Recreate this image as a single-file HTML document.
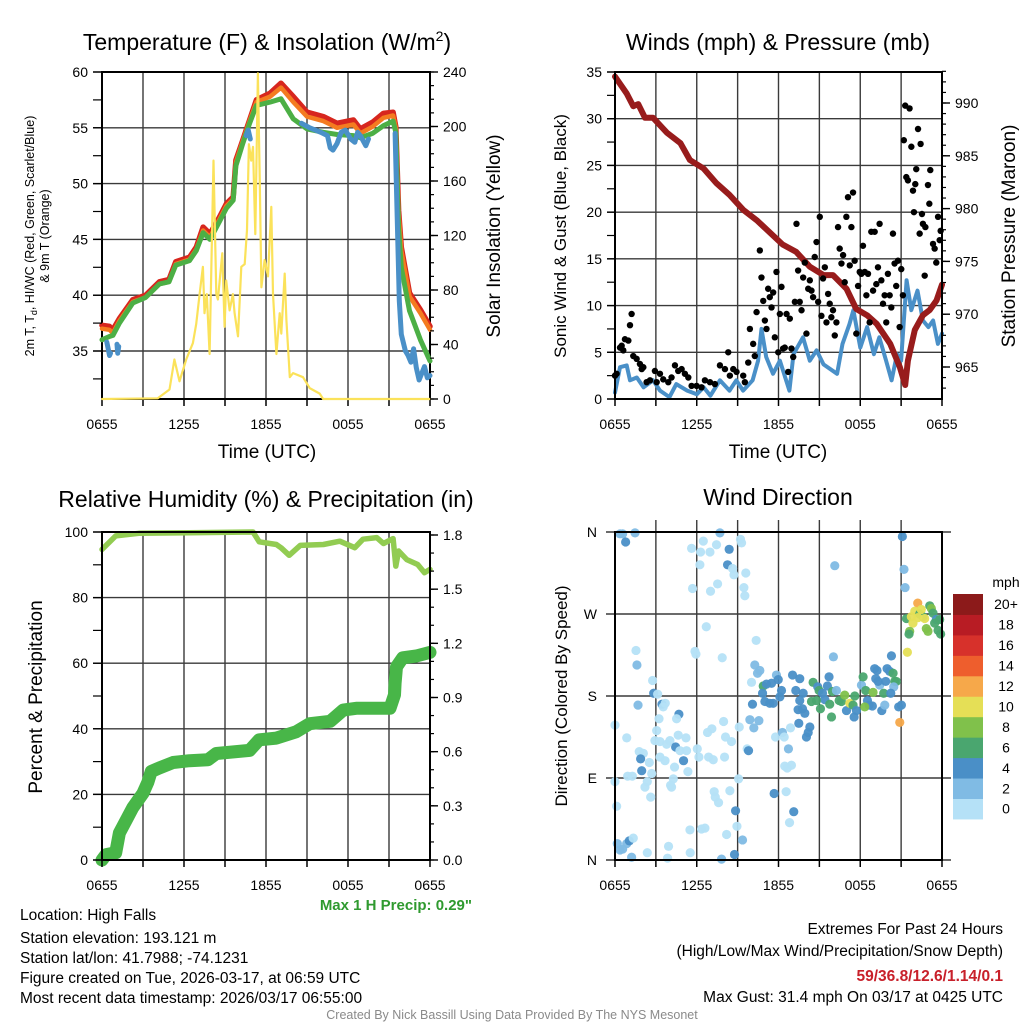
<!DOCTYPE html>
<html><head><meta charset="utf-8"><style>
html,body{margin:0;padding:0;background:#fff;}
svg{display:block;font-family:"Liberation Sans",Arial,sans-serif;}
</style></head><body>
<svg id="fig" width="1024" height="1024" viewBox="0 0 1024 1024" xmlns="http://www.w3.org/2000/svg">
<rect width="1024" height="1024" fill="#fff"/>
<g id="layer"></g>
<!-- titles -->
<text x="267" y="50" font-size="23" text-anchor="middle">Temperature (F) &amp; Insolation (W/m<tspan font-size="14" dy="-9">2</tspan><tspan dy="9">)</tspan></text>
<text x="778" y="50" font-size="23" text-anchor="middle">Winds (mph) &amp; Pressure (mb)</text>
<text x="266" y="507" font-size="23" text-anchor="middle">Relative Humidity (%) &amp; Precipitation (in)</text>
<text x="778" y="505" font-size="23" text-anchor="middle">Wind Direction</text>
<!-- axis titles -->
<text x="267" y="458" font-size="19" text-anchor="middle">Time (UTC)</text>
<text x="778" y="458" font-size="19" text-anchor="middle">Time (UTC)</text>
<text transform="translate(34,236) rotate(-90)" font-size="12.5" text-anchor="middle">2m T, T<tspan font-size="9" dy="3">d</tspan><tspan dy="-3">, HI/WC (Red, Green, Scarlet/Blue)</tspan></text>
<text transform="translate(49,236) rotate(-90)" font-size="12.5" text-anchor="middle">&amp; 9m T (Orange)</text>
<text transform="translate(500,236) rotate(-90)" font-size="19" text-anchor="middle">Solar Insolation (Yellow)</text>
<text transform="translate(566,236) rotate(-90)" font-size="17" text-anchor="middle">Sonic Wind &amp; Gust (Blue, Black)</text>
<text transform="translate(1015,236) rotate(-90)" font-size="19" text-anchor="middle">Station Pressure (Maroon)</text>
<text transform="translate(42,697) rotate(-90)" font-size="19" text-anchor="middle">Percent &amp; Precipitation</text>
<text transform="translate(567,696) rotate(-90)" font-size="17" text-anchor="middle">Direction (Colored By Speed)</text>
<!-- footer -->
<text x="472" y="910" font-size="15" font-weight="bold" fill="#2f9a2f" text-anchor="end">Max 1 H Precip: 0.29"</text>
<g font-size="15.5">
<text x="20" y="920">Location: High Falls</text>
<text x="20" y="943">Station elevation: 193.121 m</text>
<text x="20" y="963">Station lat/lon: 41.7988; -74.1231</text>
<text x="20" y="983">Figure created on Tue, 2026-03-17, at 06:59 UTC</text>
<text x="20" y="1003">Most recent data timestamp: 2026/03/17 06:55:00</text>
</g>
<g font-size="15.5" text-anchor="end">
<text x="1003" y="934">Extremes For Past 24 Hours</text>
<text x="1003" y="956">(High/Low/Max Wind/Precipitation/Snow Depth)</text>
<text x="1003" y="981" font-weight="bold" fill="#c8202a">59/36.8/12.6/1.14/0.1</text>
<text x="1003" y="1002">Max Gust: 31.4 mph On 03/17 at 0425 UTC</text>
</g>
<text x="512" y="1019" font-size="12.5" fill="#8a8a8a" text-anchor="middle">Created By Nick Bassill Using Data Provided By The NYS Mesonet</text>
</svg>
<script>
// ---------- data ----------
const tHours=[0,0.54,0.8,1.27,2.25,3.2,4.2,4.9,5.4,6.4,6.9,7.4,7.9,8.6,9.1,9.6,9.8,10.3,10.8,11.3,12.3,13.1,14.0,15.0,16.2,17.2,18.4,18.9,19.8,20.6,21.3,21.5,21.7,21.9,22.5,23.3,24];
const tempRed=[37.3,37.2,36.9,37.9,39.6,40.0,41.2,41.4,43.0,43.4,44.3,46.1,45.5,47.0,48.2,48.8,52.1,53.9,55.7,57.5,58.1,59.0,57.8,56.4,56.0,55.4,55.7,54.9,55.5,56.3,56.4,55.1,47.6,44.3,40.2,38.7,37.2];
const tempOrange=[37.0,36.9,36.6,37.7,39.4,39.8,41.0,41.2,42.8,43.2,44.1,45.8,45.2,46.8,48.0,48.6,51.9,53.8,55.6,57.3,57.8,58.6,57.3,56.0,55.6,55.0,55.3,54.5,55.1,55.9,56.1,55.0,47.3,44.0,39.9,38.4,36.9];
const tempGreen=[36.0,36.3,36.4,37.5,39.3,39.8,41.0,41.2,42.7,43.1,44.0,45.6,45.0,46.6,47.8,48.5,51.6,53.6,55.4,57.0,57.3,57.6,55.8,54.9,54.6,54.4,54.3,54.1,54.5,55.2,55.6,54.6,46.0,42.5,38.6,36.0,34.1];
const wcHours=[0.35,0.45,0.55,0.62,0.7,1.1,1.15,1.22,1.3,10.55,10.7,10.85,11.0,14.6,15.2,16.0,16.5,16.7,16.9,17.2,17.5,17.8,18.2,18.5,18.7,18.9,19.3,19.5,19.7,21.45,21.6,21.75,21.9,22.2,22.4,22.6,22.8,23.0,23.2,23.4,23.6,23.8,24.0];
const wcTemp=[35.8,35.2,34.6,34.8,null,35.6,34.8,35.4,null,54.3,54.8,54.0,null,55.4,55.0,54.6,54.3,53.2,53.0,53.6,54.6,54.8,54.0,53.7,54.6,54.3,53.4,54.0,null,54.5,47,39.5,36.5,35.0,34.6,34.0,35.2,33.5,32.4,33.0,33.6,32.6,32.8];
const solHours=[0,4.08,4.94,5.30,5.67,6.16,6.65,6.89,7.14,7.38,7.50,7.67,7.87,8.16,8.36,8.48,8.80,8.97,9.09,9.34,9.58,9.70,9.95,10.19,10.44,10.61,10.75,10.92,11.05,11.22,11.41,11.54,11.66,11.90,12.15,12.39,12.51,12.76,13.00,13.12,13.37,13.49,13.74,13.98,14.71,15.20,15.93,16.18,24];
const solValues=[0,0.5,7,29,13,29,41,55,77,97,63,77,33,175,77,73,107,53,87,65,77,63,46,97,99,124,187,175,185,121,239,163,82,102,90,141,77,33,63,48,92,58,16,19,16,8,4,0,0];
const presHours=[0,0.86,1.34,1.7,2.2,2.8,3.8,4.8,5.5,6.5,7.45,8.4,9.4,10.4,11.4,12.3,13.3,14.3,15.3,16.0,17.0,17.7,18.5,19.2,20.2,20.9,21.3,21.5,22.0,22.6,23.1,23.6,24];
const presValues=[992.5,990.9,989.7,989.9,988.6,988.6,987.2,986.2,984.6,983.8,982.4,981.3,979.9,978.9,977.7,976.6,975.9,974.5,973.7,973.7,972.4,970.5,969.9,969.1,967.2,965.0,963.3,965.6,968.5,969.9,970.4,971.3,972.8];
const windHours=[0,0.37,0.86,1.1,1.6,2.1,2.8,3.3,4.0,4.5,5.3,6.0,6.5,7.0,7.7,8.4,8.9,9.4,10.1,10.5,10.75,11.1,11.6,12.1,12.8,13.1,13.8,14.3,14.8,15.3,16.3,16.7,17.2,17.5,18.0,18.5,19.0,19.4,19.9,20.3,20.7,21.0,21.4,21.75,22.2,22.6,23.0,23.35,23.7,24];
const windSpeed=[0.7,3.4,3.6,2.0,2.3,1.25,2.0,0.9,0.2,1.6,0.9,0.5,1.25,0.35,2.0,0.9,2.0,0.9,2.0,4.1,7.5,4.5,2.7,4.1,0.9,4.8,6.6,4.1,5.2,3.7,2.7,5.9,8.0,9.5,5.5,7.7,4.8,6.6,4.1,2.0,4.8,4.1,12.7,9.5,11.6,8.4,7.7,8.4,5.9,7.0];
const gustHours=[0,0.12,0.37,0.49,0.61,0.73,0.98,1.1,1.22,1.34,1.59,1.83,1.96,2.08,2.32,2.57,2.93,3.06,3.3,3.54,3.91,4.15,4.4,4.64,4.89,5.13,5.38,5.62,5.99,6.35,6.6,6.97,7.33,7.7,8.07,8.31,8.43,8.68,8.92,9.41,9.53,9.78,9.9,10.14,10.26,10.39,10.63,10.75,10.88,11.0,11.12,11.24,11.36,11.49,11.61,11.73,11.85,11.98,12.1,12.22,12.34,12.46,12.59,12.71,12.83,12.95,13.08,13.2,13.32,13.44,13.56,13.69,13.81,13.93,14.05,14.18,14.3,14.42,14.54,14.66,14.79,14.91,15.03,15.15,15.27,15.4,15.52,15.64,15.76,15.88,16.0,16.13,16.25,16.37,16.49,16.62,16.74,16.86,16.98,17.1,17.23,17.35,17.47,17.59,17.71,17.84,17.96,18.08,18.2,18.33,18.45,18.57,18.69,18.81,18.94,19.06,19.18,19.3,19.42,19.55,19.67,19.79,19.91,20.03,20.16,20.28,20.4,20.52,20.64,20.77,20.89,21.01,21.13,21.2,21.3,21.38,21.5,21.62,21.75,21.87,21.94,22.04,22.11,22.24,22.36,22.43,22.53,22.6,22.73,22.78,22.97,23.07,23.14,23.34,23.46,23.58,23.71,23.83,23.9];
const gustSpeed=[2.5,2.7,5.5,5.7,5.2,6.4,6.25,7.9,9.1,4.6,4.3,3.75,3.2,3.4,1.8,2.0,3.0,1.8,2.7,2.1,1.8,2.3,3.6,3.0,3.2,2.7,2.3,1.4,1.4,1.25,2.0,1.8,1.6,3.6,3.2,5.0,2.5,3.2,2.9,2.5,1.8,3.9,7.5,5.9,4.6,9.3,15.9,13.0,10.5,8.4,7.5,11.8,10.9,9.8,11.4,6.6,13.6,5.0,9.1,12.0,5.4,5.5,9.1,2.9,8.6,5.4,4.5,10.4,18.75,13.75,10.4,9.5,13.0,14.6,7.0,11.8,12.7,11.6,10.9,15.2,16.8,10.4,19.5,8.9,12.9,14.1,8.2,11.25,10.2,8.75,9.5,6.8,8.2,18.4,16.1,14.5,15.4,12.5,19.5,21.6,14.3,18.4,22.1,14.8,7.0,12.1,13.6,13.4,16.4,13.6,11.1,13.4,8.2,17.9,11.6,17.9,12.3,14.1,18.75,12.7,10.2,11.1,8.2,13.4,11.1,9.8,17.7,14.5,12.1,14.8,7.7,13.9,11.1,27.7,31.4,23.75,23.4,31.1,27.0,22.3,20.0,23.0,24.6,28.9,17.7,27.3,19.8,18.75,13.2,18.4,22.9,20.9,24.5,16.6,16.1,14.6,19.5,17.0,18.0,13.2];
const rhHours=[0,1.0,2.7,6.4,11.05,11.5,12.76,13.1,13.7,14.5,16.2,17.4,18.5,19.1,20.1,20.6,21.3,21.5,21.7,22.3,23.1,23.6,24];
const rhValues=[94.7,98.8,99.6,99.8,100,97,96.2,95.2,92.9,95.9,96.2,97.2,95.2,97.8,98.3,96.5,98.0,89.6,94.2,91.6,90.1,87.6,88.6];
const pcpHours=[0,0.3,1.0,1.27,1.76,2.25,3.0,3.35,3.6,4.2,5.2,6.4,7.75,8.36,10.8,11.5,12.76,14.2,15.2,16.7,17.65,18.6,21.07,21.4,21.45,21.55,22.0,23.0,24];
const pcpValues=[0,0.03,0.04,0.15,0.22,0.29,0.37,0.43,0.49,0.51,0.54,0.55,0.555,0.59,0.607,0.666,0.675,0.71,0.755,0.768,0.83,0.84,0.84,0.915,0.98,1.07,1.12,1.13,1.15];
const dirHours=[0.37,0.56,0.78,1.47,5.62,6.48,6.28,6.97,7.45,7.70,8.38,6.23,8.26,8.63,8.73,9.21,9.29,9.60,5.69,7.01,7.53,9.46,9.53,16.13,21.09,21.21,21.29,6.70,10.36,1.54,1.61,5.87,5.94,7.87,16.03,20.29,2.76,2.84,3.13,1.69,3.45,3.69,3.54,4.69,4.52,3.23,0.0,3.06,0.86,2.93,3.30,3.79,4.03,4.45,4.64,5.21,1.78,2.08,1.88,2.52,3.30,3.67,4.37,5.03,4.77,5.25,1.96,2.69,5.35,6.04,6.16,6.79,7.11,6.87,7.21,7.97,8.11,8.55,8.04,9.12,9.70,9.80,0.93,1.27,0.0,2.20,2.37,2.62,4.15,4.28,4.08,7.28,7.36,7.60,8.43,9.07,8.85,8.95,9.36,8.77,7.82,5.50,6.35,6.60,8.19,5.52,3.93,3.86,2.37,0.12,0.17,0.37,0.56,0.86,1.05,1.22,1.34,10.02,10.26,10.46,10.63,10.88,10.83,11.12,11.49,11.85,11.98,12.22,12.10,11.00,11.36,11.61,10.09,9.90,10.19,10.56,11.78,12.29,12.42,12.73,12.88,12.46,12.64,12.95,12.81,13.12,11.68,12.56,13.03,13.27,13.56,13.81,13.44,13.76,13.93,13.56,13.49,14.05,14.18,14.30,14.54,14.88,14.98,15.23,15.40,15.59,15.71,15.76,15.96,16.25,15.89,14.42,14.79,15.08,16.45,16.62,16.86,16.99,17.23,17.47,17.60,17.72,17.55,18.09,18.21,18.40,18.53,18.65,18.89,18.33,18.94,19.14,19.06,19.23,19.43,19.31,19.72,19.58,19.80,19.87,19.97,20.16,20.41,20.53,20.65,20.46,20.24,20.82,21.02,20.90,22.22,21.46,22.00,22.36,21.39,21.75,21.87,21.63,21.58,22.61,23.10,23.22,23.34,23.58,23.83,22.85,22.97,23.46,23.71,23.90,22.73,22.48,22.24];
const dirDegrees=[358,358,349,359,342,350,338,338,346,359,341,324,324,320,313,352,348,315,298,295,303,299,290,323,355,319,299,256,241,230,214,229,226,222,223,224,197,183,182,170,171,172,168,160,155,155,148,142,134,131,130,127,131,124,137,134,119,117,111,107,113,109,102,109,120,120,98,95,97,122,113,140,144,113,110,152,135,130,113,146,122,120,92,92,86,80,86,69,80,89,82,75,69,63,76,89,54,37,22,6,1,33,34,35,28,8,15,2,8,59,18,11,12,18,21,3,24,195,214,205,208,191,183,193,194,203,198,186,179,174,172,172,171,154,145,153,135,140,135,122,145,103,101,104,41,53,73,75,203,186,199,183,165,166,161,175,150,135,140,146,195,190,186,183,176,191,201,171,185,186,157,174,175,166,175,174,181,164,172,170,180,164,157,192,201,186,175,170,169,168,184,199,210,208,192,196,183,164,170,196,210,207,205,196,196,190,183,168,170,151,282,228,273,270,265,267,260,251,248,267,279,276,271,264,264,254,251,260,252,248,265,275,266];
const dirSpeed=[3,3,5,3,1,1,1,1,1,3,5,1,5,1,1,1,1,1,1,1,1,1,1,3,5,3,3,1,1,1,3,1,1,1,3,5,1,5,1,3,5,1,1,5,1,1,1,1,1,1,1,1,1,5,1,1,1,1,5,1,1,1,1,5,1,1,5,1,1,1,1,1,1,1,1,1,1,1,1,1,1,5,1,1,1,1,1,1,1,1,1,1,1,1,1,1,5,1,3,5,3,1,1,1,1,1,1,1,1,1,3,3,3,3,5,3,1,1,3,3,3,7,5,5,5,3,5,5,5,5,5,5,5,3,3,3,1,3,1,3,1,1,1,1,1,5,5,1,5,5,5,5,5,5,5,5,5,5,5,5,7,5,7,5,5,5,5,7,7,3,7,7,7,7,7,7,9,5,11,7,7,5,5,3,7,7,5,5,5,9,9,5,5,5,3,5,7,5,3,5,5,5,7,7,7,3,5,5,5,13,13,11,11,7,7,11,11,9,7,7,7,9,7,5,7,9,9,7,7,7,11,11,11];
const xTickLabels=["0655","1255","1855","0055","0655"];
const tempTicks=[35,40,45,50,55,60];
const solTicks=[0,40,80,120,160,200,240];
const windTicks=[0,5,10,15,20,25,30,35];
const presTicks=[965,970,975,980,985,990];
const rhTicks=[0,20,40,60,80,100];
const pcpTicks=["0.0","0.3","0.6","0.9","1.2","1.5","1.8"];
const dirTicks=["N","E","S","W","N"];
const binLabels=["0","2","4","6","8","10","12","14","16","18","20+"];
const binColors=["#b5e1f7","#80bbe4","#4a8fc7","#4aa66f","#80c14b","#e5df56","#f6a84a","#ee5e2d","#d7312b","#b81c24","#8c1a1a"];

// ---------- helpers ----------
const NS="http://www.w3.org/2000/svg";
const layer=document.getElementById('layer');
function mk(tag,attrs,parent){const e=document.createElementNS(NS,tag);for(const k in attrs)e.setAttribute(k,attrs[k]);(parent||layer).appendChild(e);return e;}
const P1={x0:102,x1:430,y0:72,y1:399},P2={x0:615,x1:942,y0:72,y1:399},P3={x0:102,x1:430,y0:532,y1:860},P4={x0:615,x1:942,y0:532,y1:860};
const X=(p,h)=>p.x0+h/24*(p.x1-p.x0);
const lin=(d0,d1,r0,r1)=>v=>r0+(v-d0)/(d1-d0)*(r1-r0);
const yTemp=lin(35,60,351,72), ySol=lin(0,240,399,72), yWind=lin(0,35,399,72), yPres=lin(965,990,367,103), yRh=lin(0,100,860,532), yPcp=lin(0,1.8,860,535), yDir=lin(0,360,860,532);
function pathD(p,hs,vs,ys){let d="",pen=false;for(let i=0;i<hs.length;i++){if(vs[i]==null){pen=false;continue;}d+=(pen?"L":"M")+X(p,hs[i]).toFixed(1)+","+ys(vs[i]).toFixed(1);pen=true;}return d;}
function series(p,hs,vs,ys,color,w,name){const e=mk('path',{d:pathD(p,hs,vs,ys),fill:'none',stroke:color,'stroke-width':w,'stroke-linejoin':'round','stroke-linecap':'round'});

return e;}
function grid(p,name,hy,extL,extR,extTop){const g=mk('g',{});


for(let h=3;h<24;h+=3)mk('line',{x1:X(p,h),x2:X(p,h),y1:p.y0-(extTop||0),y2:p.y1,stroke:'#3a3a3a','stroke-width':1.4},g);
hy.forEach(y=>mk('line',{x1:p.x0-(extL||0),x2:p.x1+(extR||0),y1:y,y2:y,stroke:'#3a3a3a','stroke-width':1.4},g));}
function frame(p,name){const g=mk('g',{});


for(let h=0;h<=24;h+=3)mk('line',{x1:X(p,h),x2:X(p,h),y1:p.y1,y2:p.y1+7,stroke:'#000','stroke-width':1.5},g);
xTickLabels.forEach((t,i)=>{const e=mk('text',{x:X(p,i*6),y:p.y1+30,'font-size':14,'text-anchor':'middle'},g);e.textContent=t;});
const r=mk('rect',{x:p.x0,y:p.y0,width:p.x1-p.x0,height:p.y1-p.y0,fill:'none',stroke:'#000','stroke-width':2});

}
function yAxis(p,side,ticks,ys,minor,majorLen,minorLen,name,fmt){const g=mk('g',{});


const x=side==='l'?p.x0:p.x1,s=side==='l'?-1:1;
minor.forEach(v=>{const y=ys(v);if(y<p.y0-1||y>p.y1+1)return;mk('line',{x1:x,x2:x+s*minorLen,y1:y,y2:y,stroke:'#000','stroke-width':1.2},g);});
ticks.forEach(t=>{const v=parseFloat(t),y=ys(v);mk('line',{x1:x,x2:x+s*majorLen,y1:y,y2:y,stroke:'#000','stroke-width':1.4},g);
const e=mk('text',{x:x+s*(majorLen+5),y:y+5,'font-size':14,'text-anchor':side==='l'?'end':'start'},g);e.textContent=fmt?fmt(t):t;});}
const range=(a,b,st)=>{const r=[];for(let v=a;v<=b+1e-9;v+=st)r.push(+v.toFixed(4));return r;};

// ---------- panel 1 ----------
grid(P1,'temperature',tempTicks.slice(0,5).map(yTemp));
frame(P1,'temperature');
series(P1,tHours,tempRed,yTemp,'#d7261e',5.5,'temperature-2m-line');
series(P1,tHours,tempOrange,yTemp,'#f47b20',4.5,'temperature-9m-line');
series(P1,tHours,tempGreen,yTemp,'#4caf45',5,'dewpoint-line');
series(P1,wcHours,wcTemp,yTemp,'#4a90c8',5,'windchill-line');
series(P1,solHours,solValues,ySol,'#fbe25a',2.2,'insolation-line');
yAxis(P1,'l',tempTicks,yTemp,range(32.5,60,2.5),9,9,'temperature-left-axis');
yAxis(P1,'r',solTicks,ySol,range(0,240,10),8,4,'insolation-right-axis');

// ---------- panel 2 ----------
grid(P2,'winds',windTicks.slice(1,7).map(yWind));
series(P2,windHours,windSpeed,yWind,'#4a90c8',4,'sonic-wind-line');
series(P2,presHours,presValues,yPres,'#981c1c',6,'pressure-line');
{const g=mk('g',{});


gustHours.forEach((h,i)=>{const c=mk('circle',{cx:X(P2,h),cy:yWind(gustSpeed[i]),r:3.2,fill:'#000'},g);

});}
frame(P2,'winds');
yAxis(P2,'l',windTicks,yWind,range(0,35,2.5),8,8,'wind-left-axis');
yAxis(P2,'r',presTicks,yPres,range(963,993,1),8,4,'pressure-right-axis');

// ---------- panel 3 ----------
grid(P3,'humidity',rhTicks.slice(1,5).map(yRh));
series(P3,rhHours,rhValues,yRh,'#92cc52',5.5,'humidity-line');
series(P3,pcpHours,pcpValues,yPcp,'#48b648',13,'precipitation-line');
frame(P3,'humidity');
yAxis(P3,'l',rhTicks,yRh,range(0,100,10),9,9,'humidity-left-axis');
yAxis(P3,'r',pcpTicks,yPcp,range(0,1.8,0.1),8,4,'precipitation-right-axis');

// ---------- panel 4 ----------
grid(P4,'direction',[90,180,270].map(yDir).concat([P4.y0,P4.y1]),9,9,12);
{const g=mk('g',{});


dirHours.forEach((h,i)=>{const sp=dirSpeed[i]==null?5:dirSpeed[i];const b=Math.min(10,Math.floor(sp/2));const c=mk('circle',{cx:X(P4,h),cy:yDir(dirDegrees[i]),r:4.6,fill:binColors[b],'fill-opacity':0.95},g);

});}
frame(P4,'direction');
{const g=mk('g',{});


dirTicks.forEach((t,i)=>{const e=mk('text',{x:597,y:yDir(i*90)+5,'font-size':14,'text-anchor':'end'},g);e.textContent=t;});}
// colorbar
{const g=mk('g',{});


const top=594,bh=20.45;
binColors.forEach((c,i)=>{const y=top+(10-i)*bh;const r=mk('rect',{x:953,y:y,width:30,height:bh+0.5,fill:c},g);


const t=mk('text',{x:1006,y:y+bh/2+5,'font-size':14,'text-anchor':'middle'},g);t.textContent=binLabels[i];});
const u=mk('text',{x:1006,y:587,'font-size':14,'text-anchor':'middle'},g);u.textContent='mph';

}
</script>
</body></html>
